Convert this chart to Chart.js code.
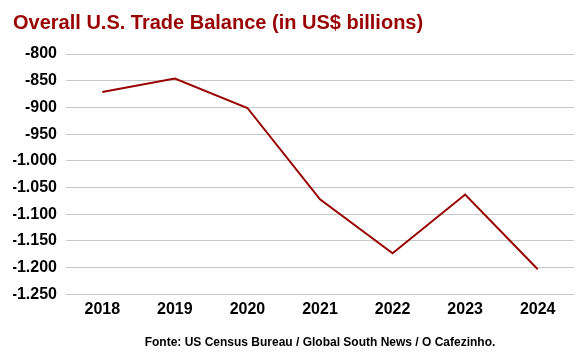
<!DOCTYPE html>
<html><head><meta charset="utf-8">
<script src="https://cdn.jsdelivr.net/npm/chart.js@4"></script>
<style>html,body{margin:0;padding:0;background:#fff}#w{width:579px;height:355px;position:relative}</style>
</head><body><div id="w"><canvas id="c"></canvas></div>
<script>
const years = ["2018","2019","2020","2021","2022","2023","2024"];
const balance = [-871, -846, -901, -1072, -1173, -1063, -1203];
const titleText = "Overall U.S. Trade Balance (in US$ billions)";
const sourceText = "Fonte: US Census Bureau / Global South News / O Cafezinho.";
const yMin = -1250, yMax = -800, yStep = 50;

function fmt(v){
  const s = Math.abs(v).toString();
  const t = s.replace(/\B(?=(\d{3})+(?!\d))/g, ".");
  return (v<0?"-":"") + t;
}
new Chart(document.getElementById('c'), {
  type: 'line',
  data: { labels: years, datasets: [{ data: balance, borderColor: '#990000', borderWidth: 2, pointRadius: 0, tension: 0, fill: false }] },
  options: {
    responsive: true, maintainAspectRatio: false, animation: false,
    layout: { padding: { left: 13, right: 5, top: 0, bottom: 5 } },
    plugins: {
      legend: { display: false }, tooltip: { enabled: false },
      title: { display: true, text: titleText, align: 'start', color: '#990000',
        font: { family: 'Liberation Sans, Arial', size: 20, weight: 'bold' }, padding: { top: 11, bottom: 19 } },
      subtitle: { display: true, text: sourceText, position: 'bottom', fullSize: false, color: '#000',
        font: { family: 'Liberation Sans, Arial', size: 12, weight: 'bold' }, padding: { top: 10, bottom: 0 } }
    },
    scales: {
      x: { offset: true, grid: { display: false, drawTicks: false }, border: { display: false },
        ticks: { color: '#000', font: { family: 'Liberation Sans, Arial', size: 16, weight: 'bold' }, padding: 6, maxRotation: 0 } },
      y: { min: yMin, max: yMax, border: { display: false },
        afterFit: s => { s.width = 53; },
        grid: { color: '#c8c8c8', lineWidth: 1, drawTicks: false },
        ticks: { stepSize: yStep, color: '#000', padding: 9, callback: v => fmt(v),
          font: { family: 'Liberation Sans, Arial', size: 16, weight: 'bold' } } }
    }
  }
});
</script></body></html>
